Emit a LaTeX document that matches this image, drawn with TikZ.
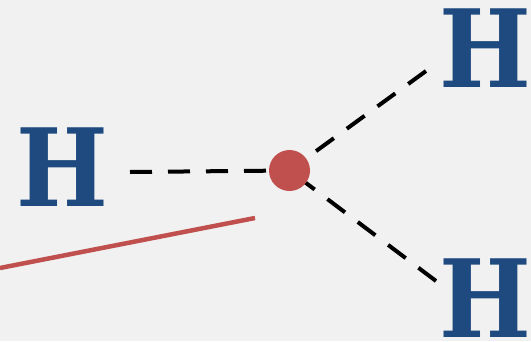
\documentclass[tikz,border=0pt]{standalone}
\usepackage{fontspec}
\newfontfamily\hfont{DejaVu Serif Condensed}[BoldFont={DejaVu Serif Condensed Bold}]
\definecolor{hblue}{HTML}{1F4A7F}
\definecolor{dotred}{HTML}{C0504D}
\definecolor{paper}{HTML}{F1F1F1}
\begin{document}
\begin{tikzpicture}[x=1pt,y=-1pt,
  atom/.style={inner sep=0pt, text=hblue, font=\hfont\bfseries\fontsize{108}{108}\selectfont},
  bond/.style={black, line width=4pt, dash pattern=on 22pt off 16pt},
  center/.style={circle, fill=dotred, minimum size=41pt, inner sep=0pt},
  redline/.style={dotred, line width=4.5pt}]
  \fill[paper] (0,0) rectangle (531,341);
  \useasboundingbox (0,0) rectangle (531,341);
  \node[atom] (hl) at (62,167) {H};
  \node[atom] (hu) at (485,48) {H};
  \node[atom] (hd) at (485,298) {H};
  \coordinate (el) at (130,172);
  \coordinate (eu) at (426,71);
  \coordinate (ed) at (436,281);
  \coordinate (dotc) at (289.5,170.5);
  \draw[bond] (el) -- (dotc);
  \draw[bond] (eu) -- (dotc);
  \draw[bond] (ed) -- (dotc);
  \node[center] (dot) at (dotc) {};
  \coordinate (r1) at (0,268);
  \coordinate (r2) at (255,218);
  \draw[redline] (r1) -- (r2);
\end{tikzpicture}
\end{document}
